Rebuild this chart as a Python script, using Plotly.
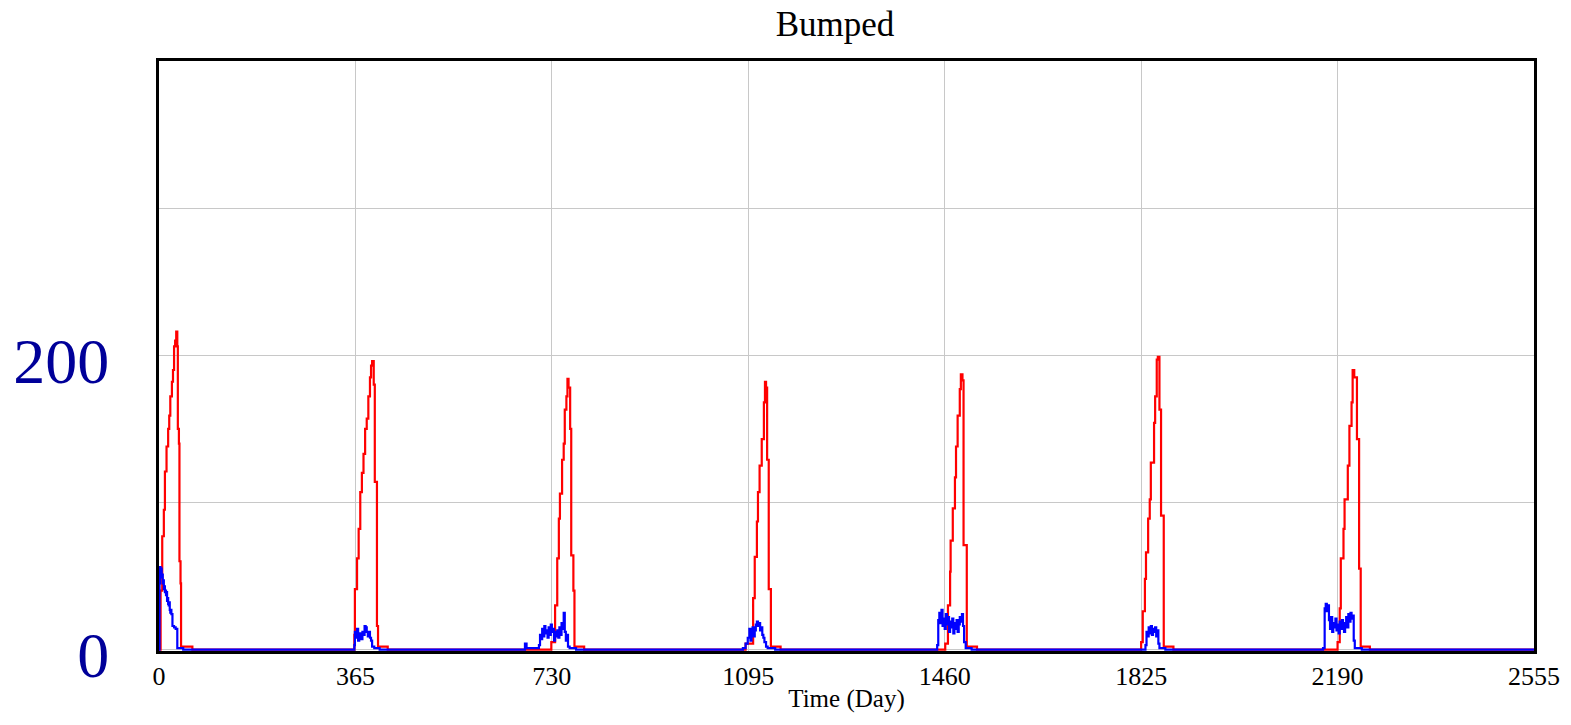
import plotly.graph_objects as go

# Red series: (day, value) breakpoints
red_day = [0, 2, 3, 6, 9, 11, 14, 17, 19, 21, 24, 26, 28, 30, 32, 34, 35, 37, 38, 40, 41, 62,
           362, 363, 364, 368, 371, 374, 377, 380, 383, 386, 389, 392, 394, 396, 399, 401, 405, 407, 425,
           728, 729, 736, 740, 743, 745, 749, 752, 754, 757, 759, 761, 764, 766, 770, 772, 790,
           1087, 1090, 1104, 1107, 1111, 1113, 1116, 1120, 1124, 1126, 1128, 1130, 1133, 1137, 1155,
           1459, 1461, 1466, 1470, 1471, 1475, 1479, 1481, 1484, 1488, 1490, 1493, 1495, 1501, 1520,
           1824, 1825, 1828, 1832, 1834, 1838, 1841, 1843, 1849, 1851, 1854, 1856, 1859, 1862, 1867, 1885,
           2189, 2190, 2194, 2196, 2201, 2203, 2209, 2212, 2216, 2218, 2221, 2226, 2230, 2233, 2250, 2555]
red_val = [0, 0, 40, 77, 95, 121, 138, 150, 159, 172, 182, 190, 206, 210, 216, 206, 150, 140, 60, 45, 2, 0,
           0, 10, 41, 62, 82, 107, 120, 133, 150, 157, 172, 185, 193, 196, 180, 114, 16, 2, 0,
           0, 5, 30, 62, 89, 106, 129, 140, 163, 172, 184, 178, 150, 64, 40, 2, 0,
           0, 4, 35, 63, 87, 107, 125, 143, 168, 182, 178, 129, 41, 2, 0,
           0, 4, 30, 53, 74, 96, 117, 138, 159, 177, 187, 183, 71, 2, 0,
           0, 5, 26, 48, 66, 89, 102, 127, 154, 172, 197, 199, 163, 91, 2, 0,
           0, 5, 28, 62, 82, 102, 125, 152, 168, 190, 185, 143, 55, 2, 0, 0]

# Blue series: (day, value) breakpoints
blue_day = [0, 1, 2, 3, 4, 5, 6, 7, 8, 9, 10, 11, 12, 13, 14, 15, 16, 17, 18, 19, 20, 21, 22, 23, 25, 28, 31, 34, 45,
            362, 363, 364, 366, 368, 370, 372, 374, 376, 378, 380, 382, 384, 386, 388, 390, 392, 394, 396, 400, 410,
            678, 680, 683, 706, 708, 710, 712, 714, 716, 718, 720, 722, 724, 726, 728, 730, 732, 734, 736, 738, 740,
            742, 744, 746, 748, 750, 752, 754, 756, 758, 760, 763, 775,
            1083, 1085, 1090, 1094, 1097, 1099, 1101, 1103, 1105, 1107, 1109, 1111, 1113, 1115, 1117, 1119, 1121,
            1123, 1125, 1128, 1131, 1145,
            1444, 1446, 1448, 1450, 1452, 1454, 1456, 1458, 1460, 1462, 1464, 1466, 1468, 1470, 1472, 1474, 1476,
            1478, 1480, 1482, 1484, 1486, 1488, 1490, 1492, 1494, 1496, 1499, 1510,
            1830, 1833, 1835, 1837, 1839, 1841, 1843, 1845, 1847, 1849, 1851, 1853, 1855, 1857, 1859, 1870,
            2160, 2163, 2166, 2168, 2170, 2172, 2174, 2176, 2178, 2180, 2182, 2184, 2186, 2188, 2190, 2192, 2194,
            2196, 2198, 2200, 2202, 2204, 2206, 2208, 2210, 2212, 2214, 2216, 2218, 2220, 2222, 2235, 2555]
blue_val = [0, 45, 56, 52, 55, 49, 51, 45, 47, 41, 43, 39, 40, 37, 39, 33, 35, 31, 30, 32, 27, 25, 27, 24, 16, 15, 14, 1, 0,
            0, 3, 12, 8, 14, 6, 11, 9, 7, 12, 10, 16, 15, 12, 9, 12, 8, 6, 2, 1, 0,
            0, 4, 1, 3, 10, 7, 14, 9, 16, 11, 13, 8, 15, 10, 17, 12, 14, 6, 12, 9, 13,
            8, 15, 10, 18, 14, 25, 12, 6, 10, 2, 1, 0,
            0, 1, 4, 8, 14, 6, 11, 15, 9, 13, 17, 19, 16, 18, 13, 15, 10,
            8, 5, 2, 1, 0,
            0, 3, 20, 25, 18, 27, 16, 21, 14, 24, 17, 22, 12, 19, 15, 21, 11,
            18, 14, 20, 12, 17, 22, 19, 24, 16, 5, 1, 0,
            0, 3, 12, 9, 15, 11, 16, 10, 14, 12, 15, 9, 13, 4, 1, 0,
            0, 1, 28, 31, 26, 30, 20, 14, 22, 12, 18, 15, 21, 13, 17, 11, 19,
            14, 20, 16, 12, 18, 22, 15, 24, 19, 25, 21, 23, 6, 1, 0, 0]

x_ticks = [0, 365, 730, 1095, 1460, 1825, 2190, 2555]
y_ticks = [0, 100, 200, 300]
y_ticktext = ["0", "", "200", ""]

fig = go.Figure()
fig.add_trace(go.Scatter(x=red_day, y=red_val, mode="lines", line=dict(color="#FF0000", width=2.2, shape="hv"),
                         showlegend=False))
fig.add_trace(go.Scatter(x=blue_day, y=blue_val, mode="lines", line=dict(color="#0000FF", width=2.2, shape="hv"),
                         showlegend=False))

serif = "Liberation Serif, Times New Roman, serif"
fig.update_layout(
    width=1571, height=725,
    margin=dict(l=159, r=37, t=61, b=74),
    paper_bgcolor="white", plot_bgcolor="white",
    title=dict(text="Bumped", x=0.5315, xref="container", xanchor="center",
               y=1 - 24 / 725, yref="container", yanchor="middle",
               font=dict(family=serif, size=35, color="black")),
    font=dict(family=serif, color="black"),
)
fig.update_xaxes(range=[0, 2555], tickvals=x_ticks, ticktext=[str(v) for v in x_ticks],
                 showgrid=True, gridcolor="#c8c8c8", gridwidth=1,
                 showline=True, linecolor="black", linewidth=3, mirror=True,
                 ticks="", zeroline=False, automargin=False,
                 tickfont=dict(family=serif, size=26, color="black"),
                 title=dict(text="Time (Day)", font=dict(family=serif, size=25, color="black"), standoff=0))
fig.update_yaxes(range=[-1, 400], tickvals=y_ticks, ticktext=y_ticktext,
                 showgrid=True, gridcolor="#c8c8c8", gridwidth=1,
                 showline=True, linecolor="black", linewidth=3, mirror=True,
                 ticks="", zeroline=False, ticklabelstandoff=34, ticklabelshift=5, automargin=False,
                 tickfont=dict(family=serif, size=64, color="#000099"))

fig.write_html("out.html")
